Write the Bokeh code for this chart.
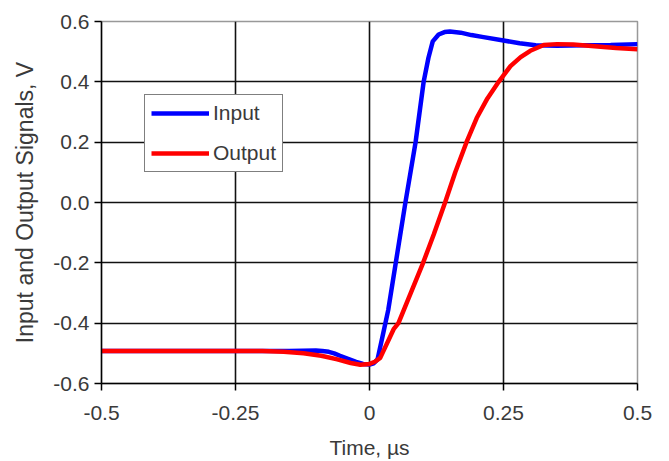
from bokeh.plotting import figure
from bokeh.models import FixedTicker, Legend, LegendItem, Range1d
from bokeh.embed import file_html
from bokeh.resources import INLINE

# Data
time_input = [-0.5, -0.3, -0.15, -0.1, -0.088, -0.076, -0.066, -0.055, -0.04, -0.025, -0.012, 0.0,
              0.008, 0.015, 0.026, 0.035, 0.049, 0.067, 0.086, 0.101, 0.11, 0.118, 0.129, 0.14,
              0.15, 0.17, 0.19, 0.21, 0.25, 0.28, 0.31, 0.35, 0.4, 0.45, 0.5]
input_v = [-0.492, -0.492, -0.492, -0.491, -0.492, -0.495, -0.5, -0.508, -0.518, -0.528, -0.535, -0.537,
           -0.533, -0.52, -0.43, -0.356, -0.2, 0.0, 0.2, 0.4, 0.48, 0.534, 0.557, 0.565,
           0.567, 0.563, 0.555, 0.549, 0.537, 0.528, 0.521, 0.52, 0.521, 0.522, 0.525]

time_output = [-0.5, -0.3, -0.2, -0.16, -0.123, -0.09, -0.06, -0.035, -0.017, 0.0, 0.01, 0.02,
               0.045, 0.054, 0.07, 0.1, 0.12, 0.141, 0.16, 0.181, 0.2, 0.22, 0.241, 0.263,
               0.282, 0.3, 0.325, 0.35, 0.38, 0.42, 0.46, 0.5]
output_v = [-0.492, -0.492, -0.492, -0.495, -0.5, -0.508, -0.52, -0.532, -0.538, -0.535, -0.528, -0.515,
            -0.42, -0.4, -0.33, -0.2, -0.105, 0.0, 0.1, 0.2, 0.28, 0.345, 0.4, 0.452,
            0.482, 0.503, 0.522, 0.525, 0.524, 0.518, 0.512, 0.508]

x_ticks = [-0.5, -0.25, 0, 0.25, 0.5]
x_tick_labels = ["-0.5", "-0.25", "0", "0.25", "0.5"]
y_ticks = [-0.6, -0.4, -0.2, 0.0, 0.2, 0.4, 0.6]
y_tick_labels = ["-0.6", "-0.4", "-0.2", "0.0", "0.2", "0.4", "0.6"]

FONT = "Liberation Sans"
TEXT_COLOR = "#3a3a3a"

p = figure(width=669, height=461, output_backend="svg", toolbar_location=None,
           x_range=Range1d(-0.5, 0.5), y_range=Range1d(-0.6, 0.6),
           min_border_left=101, min_border_right=32, min_border_top=21, min_border_bottom=76)

p.outline_line_color = "#999999"
p.outline_line_width = 1.5
p.background_fill_color = "white"
p.border_fill_color = "white"

for ax in (p.xaxis[0], p.yaxis[0]):
    ax.axis_line_color = "black"
    ax.axis_line_width = 1.5
    ax.major_tick_line_color = "black"
    ax.major_tick_line_width = 1.5
    ax.major_tick_out = 7
    ax.major_tick_in = 0
    ax.minor_tick_line_color = None
    ax.major_label_text_font = FONT
    ax.major_label_text_font_size = "21px"
    ax.major_label_text_color = TEXT_COLOR
    ax.axis_label_text_font = FONT
    ax.axis_label_text_font_size = "21px"
    ax.axis_label_text_font_style = "normal"
    ax.axis_label_text_color = TEXT_COLOR

p.yaxis.axis_label_text_font_size = "23px"

p.xaxis.ticker = FixedTicker(ticks=x_ticks)
p.xaxis.major_label_overrides = {t: l for t, l in zip(x_ticks, x_tick_labels)}
p.yaxis.ticker = FixedTicker(ticks=y_ticks)
p.yaxis.major_label_overrides = {t: l for t, l in zip(y_ticks, y_tick_labels)}
p.xaxis.axis_label = "Time, µs"
p.yaxis.axis_label = "Input and Output Signals, V"
p.xaxis.major_label_standoff = 15
p.yaxis.major_label_standoff = 5
p.xaxis.axis_label_standoff = 13
p.yaxis.axis_label_standoff = 12

p.xgrid.grid_line_color = "#111111"
p.ygrid.grid_line_color = "#111111"
p.xgrid.grid_line_width = 1.6
p.ygrid.grid_line_width = 1.6

r_in = p.line(time_input, input_v, line_color="#0000FF", line_width=4.5)
r_out = p.line(time_output, output_v, line_color="#FF0000", line_width=4.5)

legend = Legend(items=[LegendItem(label="Input", renderers=[r_in]),
                       LegendItem(label="Output", renderers=[r_out])],
                location=(43, 211))
legend.border_line_color = "black"
legend.border_line_width = 1.5
legend.background_fill_alpha = 1.0
legend.label_text_font = FONT
legend.label_text_font_size = "21px"
legend.label_text_color = TEXT_COLOR
legend.glyph_width = 58
legend.glyph_height = 24
legend.label_height = 24
legend.label_standoff = 4
legend.spacing = 16
legend.padding = 6
legend.margin = 0
p.add_layout(legend, "center")

open("out.html", "w").write(file_html(p, INLINE))
